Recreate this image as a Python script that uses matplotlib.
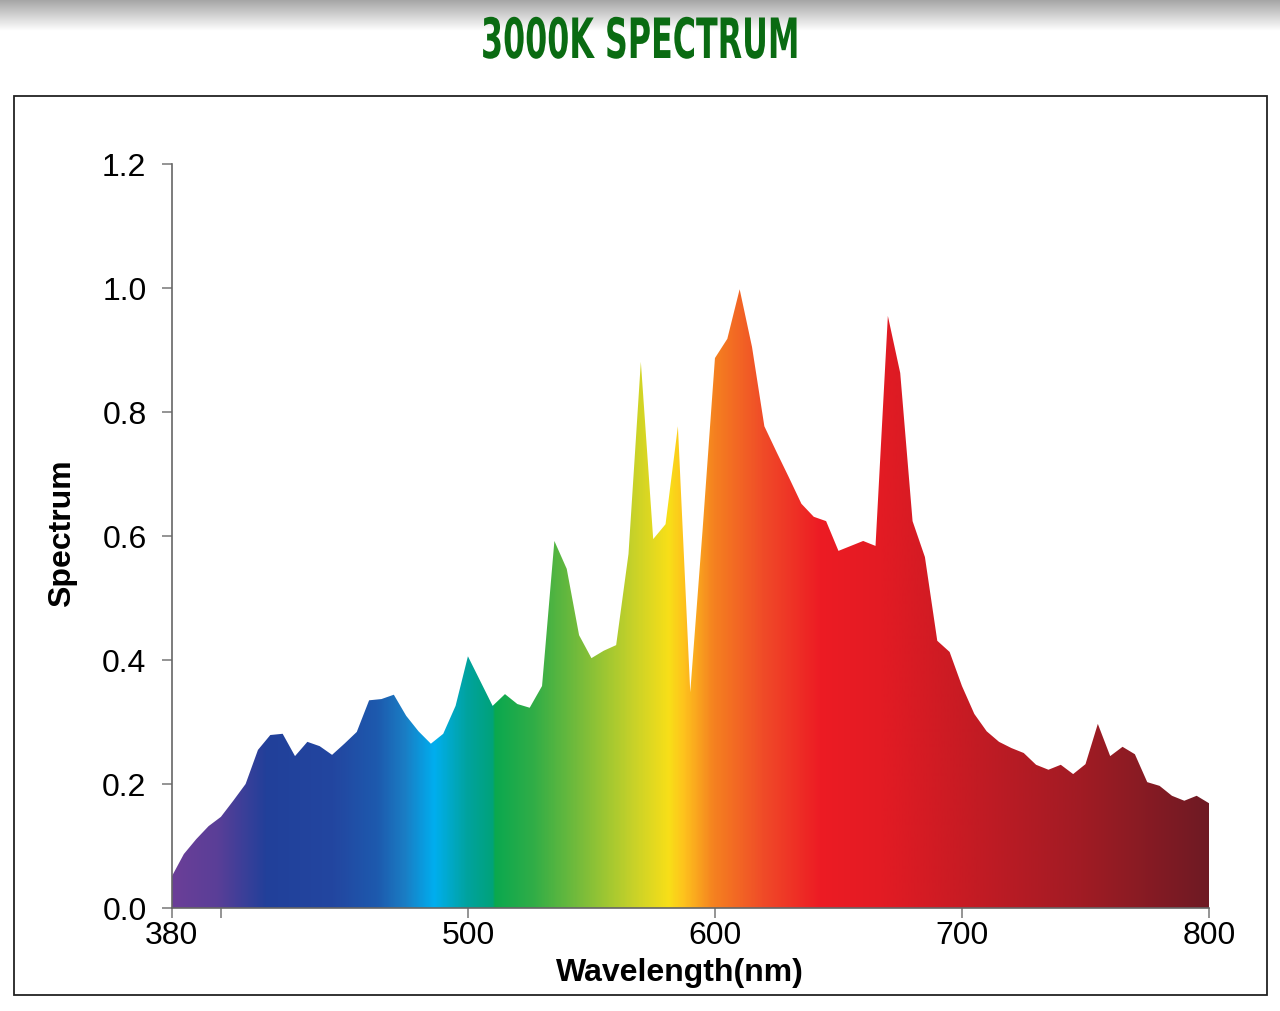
import numpy as np
import matplotlib
matplotlib.use("Agg")
import matplotlib.pyplot as plt
from matplotlib import patheffects
from matplotlib.colors import LinearSegmentedColormap
from matplotlib.patches import Rectangle
from matplotlib.transforms import Affine2D

# wavelength grid (nm), one reading every 5 nm
wavelength = np.arange(380, 805, 5)
# relative spectrum
spectrum = [
    0.050, 0.087, 0.111, 0.132, 0.147, 0.173, 0.200, 0.255, 0.279, 0.281,
    0.245, 0.268, 0.261, 0.247, 0.265, 0.284, 0.335, 0.337, 0.344, 0.310,
    0.285, 0.265, 0.281, 0.326, 0.406, 0.366, 0.326, 0.345, 0.329, 0.323,
    0.358, 0.592, 0.547, 0.440, 0.403, 0.415, 0.424, 0.571, 0.881, 0.595,
    0.619, 0.777, 0.348, 0.610, 0.887, 0.918, 0.998, 0.905, 0.777, 0.735,
    0.694, 0.652, 0.631, 0.624, 0.576, 0.584, 0.592, 0.584, 0.955, 0.863,
    0.624, 0.566, 0.431, 0.413, 0.358, 0.313, 0.285, 0.268, 0.258, 0.250,
    0.231, 0.223, 0.231, 0.216, 0.232, 0.297, 0.245, 0.260, 0.248, 0.203,
    0.197, 0.181, 0.173, 0.181, 0.169,
]

xtick_pos = [380, 400, 500, 600, 700, 800]
xtick_labels = ["380", "", "500", "600", "700", "800"]
ytick_pos = [0.0, 0.2, 0.4, 0.6, 0.8, 1.0, 1.2]

# colour stops of the rainbow fill (wavelength, colour)
stop_nm = [380, 398, 418, 445, 463, 474, 486, 499, 509.5, 510.5, 526, 546,
           566, 581, 587, 599, 619, 642, 667, 707, 748, 800]
stop_col = ["#6b3f98", "#5a3e97", "#21409a", "#2346a0", "#1d5aae", "#1a7dc4",
            "#00aeef", "#00a3a0", "#00a27a", "#0aa84f", "#30ad47", "#7bbd3a",
            "#c5d12a", "#f8df18", "#fec31d", "#f58220", "#f04c28", "#ed1c24",
            "#e31b23", "#c21b24", "#a11c24", "#6e1a23"]


class Squeeze(patheffects.AbstractPathEffect):
    # squeeze glyphs horizontally around cx (display px) for a condensed look
    def __init__(self, sx, cx):
        super().__init__()
        self.sx = sx
        self.cx = cx

    def draw_path(self, renderer, gc, tpath, affine, rgbFace=None):
        t = affine + Affine2D().translate(-self.cx, 0).scale(self.sx, 1).translate(self.cx, 0)
        renderer.draw_path(gc, tpath, t, rgbFace)


def main():
    plt.rcParams['font.family'] = ['Liberation Sans', 'DejaVu Sans']
    W, H = 1280, 1012
    fig = plt.figure(figsize=(W / 100, H / 100), dpi=100)
    fig.patch.set_facecolor("white")

    # grey shading band at the very top
    band = fig.add_axes([0, 1 - 32 / H, 1, 32 / H])
    g = np.linspace(0.64, 1.0, 64).reshape(-1, 1)
    band.imshow(np.dstack([g, g, g]), aspect="auto", extent=[0, 1, 0, 1])
    band.axis("off")

    # title
    title = fig.text(0.5, 1 - 38 / H, "3000K SPECTRUM", ha="center", va="center_baseline",
                     fontsize=40, fontweight="bold", color="#0a6b12",
                     family=["DejaVu Sans"])
    natural = title.get_window_extent(renderer=fig.canvas.get_renderer()).width
    title.set_path_effects([Squeeze(318 / natural, W / 2)])

    # outer frame
    fig.patches.append(Rectangle((14 / W, 1 - 996 / H), 1253 / W, 899 / H,
                                 transform=fig.transFigure, fill=False,
                                 edgecolor="#222222", linewidth=1.3))

    ax = fig.add_axes([171.5 / W, 1 - 909 / H, 1037.5 / W, 744 / H])
    ax.set_xlim(380, 800)
    ax.set_ylim(0, 1.2)

    poly = ax.fill_between(wavelength, 0, spectrum, color="none", linewidth=0)
    pos = [(v - 380) / 420 for v in stop_nm]
    cmap = LinearSegmentedColormap.from_list("spec", list(zip(pos, stop_col)), N=1024)
    grad = np.linspace(380, 800, 1200).reshape(1, -1)
    img = ax.imshow(grad, cmap=cmap, vmin=380, vmax=800, aspect="auto",
                    extent=[380, 800, 0, 1.2], interpolation="bilinear")
    img.set_clip_path(poly.get_paths()[0], transform=ax.transData)

    for s in ["top", "right"]:
        ax.spines[s].set_visible(False)
    for s in ["left", "bottom"]:
        ax.spines[s].set_color("#666666")
        ax.spines[s].set_linewidth(1.2)

    ax.set_xticks(xtick_pos)
    ax.set_xticklabels(xtick_labels)
    ax.set_yticks(ytick_pos)
    ax.set_yticklabels([f"{v:.1f}" for v in ytick_pos])
    ax.tick_params(axis="x", direction="out", length=7, width=1.1, color="#777777",
                   labelsize=23, pad=2)
    ax.tick_params(axis="y", direction="out", length=7, width=1.1, color="#777777",
                   labelsize=23, pad=11)

    ax.set_xlabel("Wavelength(nm)", fontsize=23, fontweight="bold")
    ax.xaxis.set_label_coords((680 - 171.5) / 1037.5, -0.066)
    ax.set_ylabel("Spectrum", fontsize=23, fontweight="bold")
    ax.yaxis.set_label_coords(-(171.5 - 77) / 1037.5, 0.505)

    fig.savefig("out.png", dpi=100)


if __name__ == "__main__":
    main()
